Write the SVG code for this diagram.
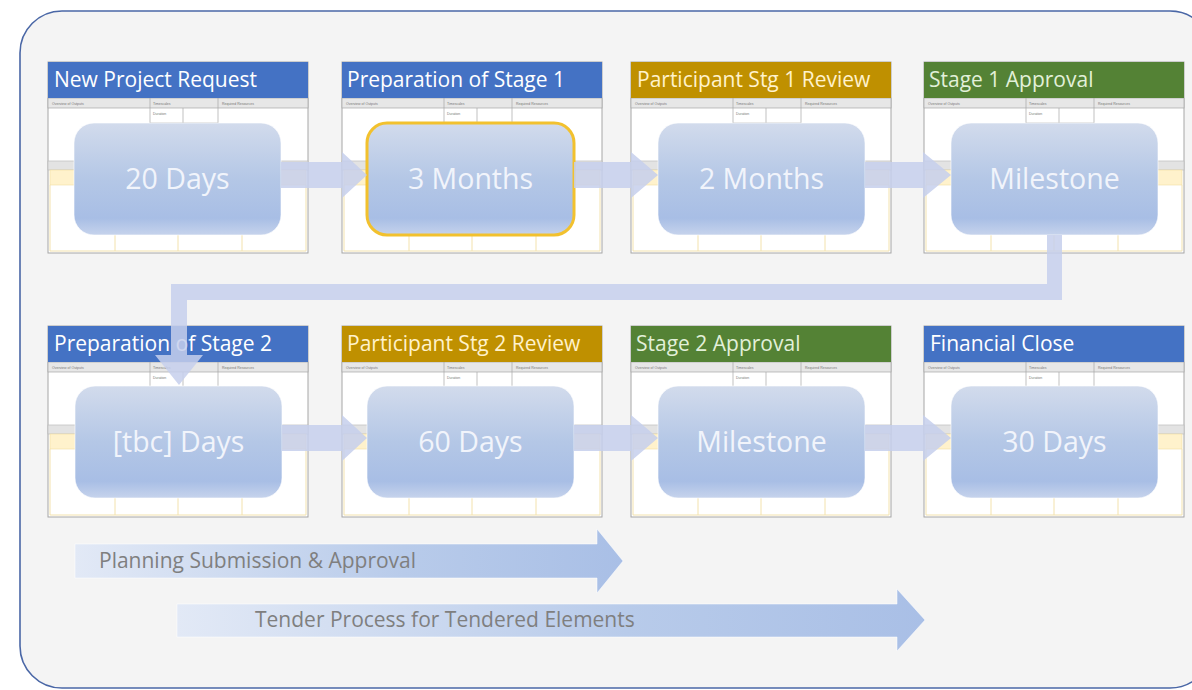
<svg xmlns="http://www.w3.org/2000/svg" xmlns:xlink="http://www.w3.org/1999/xlink" width="1192" height="690" viewBox="0 0 1192 690">
<style>
.hdr{font-family:"Open Sans","Noto Sans","Liberation Sans",sans-serif;font-size:21px}
.hb{fill:#4472C4}.hg{fill:#BF9000}.hn{fill:#548235}
.tb{fill:#ffffff}.tg{fill:#fff2cc}.tn{fill:#e2f0d9}
.box{fill:url(#boxg);stroke:#ffffff;stroke-opacity:.6;stroke-width:1}
.sel{stroke:#f2c12e;stroke-opacity:1;stroke-width:3}
.btxt{font-family:"Open Sans","Noto Sans","Liberation Sans",sans-serif;font-size:28.5px;fill:#f1f4fb;text-anchor:middle}
.tiny{font-family:"Liberation Sans",sans-serif;font-size:3.5px;fill:#777}
.conn{fill:#c6cfec;fill-opacity:.85}
.barTxt{font-family:"Open Sans","Noto Sans","Liberation Sans",sans-serif;font-size:21px;fill:#7f7f7f}
.gl{stroke:#a6a6a6;stroke-width:.7;fill:none}
.yl{stroke:#f3e2ad;stroke-width:1;fill:none}
</style>
<defs>
<linearGradient id="boxg" x1="0" y1="0" x2="0" y2="1">
<stop offset="0" stop-color="#d2dbec"/>
<stop offset="0.5" stop-color="#b4c7e6"/>
<stop offset="0.85" stop-color="#a8bee5"/>
<stop offset="1" stop-color="#c6d3ec"/>
</linearGradient>
<linearGradient id="barg" x1="0" y1="0" x2="1" y2="0">
<stop offset="0" stop-color="#e2e9f6"/>
<stop offset="0.6" stop-color="#b8cbea"/>
<stop offset="1" stop-color="#a9bfe6"/>
</linearGradient>
<g id="tpl">
<rect x="0" y="0" width="260" height="191" fill="#ffffff" stroke="#a6a6a6" stroke-width="1"/>
<rect x="0" y="36" width="260" height="10" fill="#e7e7e7" stroke="#a6a6a6" stroke-width=".7"/>
<path class="gl" d="M102,36V99M170,36V99M135,46V61M102,61H170"/>
<rect x="0" y="99" width="260" height="9" fill="#e3e3e3" stroke="#bcbcbc" stroke-width=".7"/>
<rect x="2" y="108" width="256" height="15" fill="#fff2cc" stroke="#f0dca0" stroke-width=".6"/>
<path class="yl" d="M2,123V189H258V123M67,123V189M130,123V189M194,123V189"/>
<text class="tiny" x="4" y="43">Overview of Outputs</text>
<text class="tiny" x="105" y="43">Timescales</text>
<text class="tiny" x="174" y="43">Required Resources</text>
<text class="tiny" x="105" y="53">Duration</text>
</g>
</defs>
<rect x="20" y="11" width="1192" height="677" rx="42" ry="42" fill="#f4f4f4" stroke="#4a67a6" stroke-width="1.6"/>

<g id="n1">
<use xlink:href="#tpl" x="48" y="62"/>
<rect class="hb" x="48" y="62" width="260" height="36"/>
<text class="hdr tb" x="54" y="87">New Project Request</text>
<rect class="box" x="74" y="123" width="207" height="112" rx="20"/>
<text class="btxt" x="177.5" y="189">20 Days</text>
</g>
<g id="n2">
<use xlink:href="#tpl" x="342" y="62"/>
<rect class="hb" x="342" y="62" width="260" height="36"/>
<text class="hdr tb" x="347" y="87">Preparation of Stage 1</text>
<rect class="box sel" x="367" y="123" width="207" height="112" rx="20"/>
<text class="btxt" x="470.5" y="189">3 Months</text>
</g>
<g id="n3">
<use xlink:href="#tpl" x="631" y="62"/>
<rect class="hg" x="631" y="62" width="260" height="36"/>
<text class="hdr tg" x="637" y="87">Participant Stg 1 Review</text>
<rect class="box" x="658" y="123" width="207" height="112" rx="20"/>
<text class="btxt" x="761.5" y="189">2 Months</text>
</g>
<g id="n4">
<use xlink:href="#tpl" x="924" y="62"/>
<rect class="hn" x="924" y="62" width="260" height="36"/>
<text class="hdr tn" x="929" y="87">Stage 1 Approval</text>
<rect class="box" x="951" y="123" width="207" height="112" rx="20"/>
<text class="btxt" x="1054.5" y="189">Milestone</text>
</g>
<g id="n5">
<use xlink:href="#tpl" x="48" y="326"/>
<rect class="hb" x="48" y="326" width="260" height="36"/>
<text class="hdr tb" x="54" y="351">Preparation of Stage 2</text>
<rect class="box" x="75" y="386" width="207" height="112" rx="20"/>
<text class="btxt" x="178.5" y="452">[tbc] Days</text>
</g>
<g id="n6">
<use xlink:href="#tpl" x="342" y="326"/>
<rect class="hg" x="342" y="326" width="260" height="36"/>
<text class="hdr tg" x="347" y="351">Participant Stg 2 Review</text>
<rect class="box" x="367" y="386" width="207" height="112" rx="20"/>
<text class="btxt" x="470.5" y="452">60 Days</text>
</g>
<g id="n7">
<use xlink:href="#tpl" x="631" y="326"/>
<rect class="hn" x="631" y="326" width="260" height="36"/>
<text class="hdr tn" x="636" y="351">Stage 2 Approval</text>
<rect class="box" x="658" y="386" width="207" height="112" rx="20"/>
<text class="btxt" x="761.5" y="452">Milestone</text>
</g>
<g id="n8">
<use xlink:href="#tpl" x="924" y="326"/>
<rect class="hb" x="924" y="326" width="260" height="36"/>
<text class="hdr tb" x="930" y="351">Financial Close</text>
<rect class="box" x="951" y="386" width="207" height="112" rx="20"/>
<text class="btxt" x="1054.5" y="452">30 Days</text>
</g>

<g id="connectors">
<path class="conn" d="M281,162H342V152L367,175L342,198V188H281Z"/>
<path class="conn" d="M574,162H631V152L658,175L631,198V188H574Z"/>
<path class="conn" d="M865,162H923V152L951,175L923,198V188H865Z"/>
<path class="conn" d="M1047,235H1062V300H187V355H203L179,385L155,355H171V284H1047Z"/>
<path class="conn" d="M282,425H342V415L367,438L342,461V451H282Z"/>
<path class="conn" d="M574,425H631V415L658,438L631,461V451H574Z"/>
<path class="conn" d="M865,425H923V415L951,438L923,461V451H865Z"/>
</g>

<g id="bar1">
<path d="M75,544H597V529L623,561L597,593V578H75Z" fill="url(#barg)" stroke="#ffffff" stroke-opacity=".5" stroke-width="1"/>
<text class="barTxt" x="99" y="568">Planning Submission &amp; Approval</text>
</g>
<g id="bar2">
<path d="M177,604H897V589L925,620L897,651V637H177Z" fill="url(#barg)" stroke="#ffffff" stroke-opacity=".5" stroke-width="1"/>
<text class="barTxt" x="255" y="627">Tender Process for Tendered Elements</text>
</g>
</svg>
